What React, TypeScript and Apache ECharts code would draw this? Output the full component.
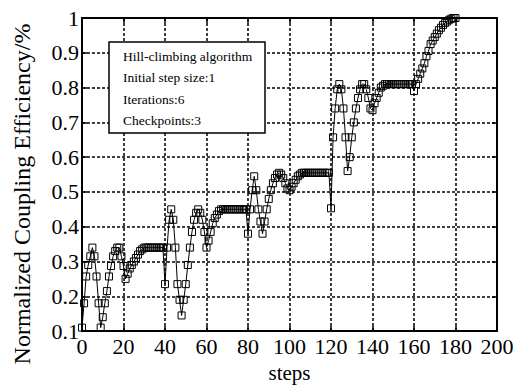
import React, { useEffect, useRef } from "react";
import * as echarts from "echarts";

// Normalized coupling efficiency per step (steps 0..180)
const efficiency: number[] = [
  0.11, 0.18, 0.257, 0.29, 0.315, 0.34, 0.315, 0.257, 0.18, 0.11,
  0.14, 0.18, 0.215, 0.257, 0.287, 0.315, 0.33, 0.34, 0.34, 0.315,
  0.287, 0.25, 0.265, 0.28, 0.29, 0.30, 0.31, 0.32, 0.33, 0.335,
  0.34, 0.34, 0.34, 0.34, 0.34, 0.34, 0.34, 0.34, 0.34, 0.34,
  0.235, 0.34, 0.42, 0.45, 0.42, 0.34, 0.235, 0.19, 0.145, 0.19,
  0.235, 0.29, 0.34, 0.385, 0.42, 0.44, 0.45, 0.44, 0.42, 0.385,
  0.34, 0.36, 0.385, 0.41, 0.425, 0.435, 0.445, 0.45, 0.45, 0.45,
  0.45, 0.45, 0.45, 0.45, 0.45, 0.45, 0.45, 0.45, 0.45, 0.45,
  0.38, 0.45, 0.505, 0.545, 0.505, 0.45, 0.415, 0.38, 0.415, 0.45,
  0.48, 0.505, 0.525, 0.54, 0.55, 0.555, 0.55, 0.54, 0.525, 0.51,
  0.505, 0.515, 0.525, 0.535, 0.545, 0.55, 0.555, 0.555, 0.555, 0.555,
  0.555, 0.555, 0.555, 0.555, 0.555, 0.555, 0.555, 0.555, 0.555, 0.555,
  0.453, 0.657, 0.74, 0.795, 0.81, 0.795, 0.74, 0.657, 0.56, 0.60,
  0.657, 0.70, 0.74, 0.77, 0.795, 0.81, 0.81, 0.795, 0.77, 0.74,
  0.735, 0.755, 0.77, 0.785, 0.80, 0.805, 0.81, 0.81, 0.81, 0.81,
  0.81, 0.81, 0.81, 0.81, 0.81, 0.81, 0.81, 0.81, 0.81, 0.81,
  0.79, 0.81, 0.825, 0.84, 0.855, 0.87, 0.89, 0.905, 0.925, 0.935,
  0.945, 0.955, 0.965, 0.972, 0.98, 0.986, 0.99, 0.995, 0.998, 1.0,
  1.0,
];

const steps: number[] = efficiency.map((_, i) => i);

const xTicks = { min: 0, max: 200, interval: 20 };
const yTicks = { min: 0.1, max: 1, interval: 0.1 };

const xTitle = "steps";
const yTitle = "Normalized Coupling Efficiency/%";

const annotationLines: string[] = [
  "Hill-climbing algorithm",
  "Initial step size:1",
  "Iterations:6",
  "Checkpoints:3",
];

const FONT = "'Liberation Serif', 'Times New Roman', serif";

export default function App() {
  const ref = useRef<HTMLDivElement>(null);

  useEffect(() => {
    document.body.style.margin = "0";
    if (!ref.current) return;
    const chart = echarts.init(ref.current, undefined, { renderer: "svg" });

    const data = steps.map((s, i) => [s, efficiency[i]]);

    const gridLine = {
      show: true,
      lineStyle: { color: "#000", width: 1.5, type: [3, 2] as any },
    };

    const textEls = annotationLines.map((t, i) => ({
      type: "text",
      left: 123,
      top: 49 + i * 21.5,
      style: {
        text: t,
        fill: "#000",
        font: `13.5px ${FONT}`,
      },
      z: 101,
    }));

    chart.setOption({
      animation: false,
      backgroundColor: "#fff",
      grid: { left: 82, right: 20, top: 18, bottom: 43 },
      xAxis: [
        {
          type: "value",
          min: xTicks.min,
          max: xTicks.max,
          interval: xTicks.interval,
          position: "bottom",
          name: xTitle,
          nameLocation: "middle",
          nameGap: 23,
          nameTextStyle: { fontFamily: FONT, fontSize: 21, color: "#000" },
          axisLine: { show: true, onZero: false, lineStyle: { color: "#000", width: 2 } },
          axisTick: { show: true, inside: true, length: 5, lineStyle: { color: "#000", width: 1.5 } },
          axisLabel: { fontFamily: FONT, fontSize: 22, color: "#000", margin: 4 },
          splitLine: gridLine,
        },
        {
          type: "value",
          min: xTicks.min,
          max: xTicks.max,
          interval: xTicks.interval,
          position: "top",
          axisLine: { show: true, onZero: false, lineStyle: { color: "#000", width: 2 } },
          axisTick: { show: true, inside: true, length: 5, lineStyle: { color: "#000", width: 1.5 } },
          axisLabel: { show: false },
          splitLine: { show: false },
        },
      ],
      yAxis: [
        {
          type: "value",
          min: yTicks.min,
          max: yTicks.max,
          interval: yTicks.interval,
          position: "left",
          axisLine: { show: true, onZero: false, lineStyle: { color: "#000", width: 2 } },
          axisTick: { show: true, inside: true, length: 5, lineStyle: { color: "#000", width: 1.5 } },
          axisLabel: {
            fontFamily: FONT,
            fontSize: 22,
            color: "#000",
            margin: 3,
            formatter: (v: number) => String(+v.toFixed(1)),
          },
          splitLine: gridLine,
        },
        {
          type: "value",
          min: yTicks.min,
          max: yTicks.max,
          interval: yTicks.interval,
          position: "right",
          axisLine: { show: true, onZero: false, lineStyle: { color: "#000", width: 2 } },
          axisTick: { show: true, inside: true, length: 5, lineStyle: { color: "#000", width: 1.5 } },
          axisLabel: { show: false },
          splitLine: { show: false },
        },
      ],
      series: [
        {
          type: "line",
          xAxisIndex: 0,
          yAxisIndex: 0,
          data,
          symbol: "rect",
          symbolSize: 7,
          showAllSymbol: true,
          lineStyle: { color: "#000", width: 1 },
          itemStyle: { color: "rgba(255,255,255,0)", borderColor: "#000", borderWidth: 1 },
          emphasis: { disabled: true },
        },
      ],
      graphic: [
        {
          type: "text",
          x: 22,
          y: 194,
          rotation: Math.PI / 2,
          style: {
            text: yTitle,
            fill: "#000",
            font: `24px ${FONT}`,
            textAlign: "center",
            textVerticalAlign: "middle",
          },
        },
        {
          type: "rect",
          shape: { x: 109, y: 42, width: 156, height: 91 },
          style: { fill: "#fff", stroke: "#000", lineWidth: 1.5 },
          z: 100,
        },
        ...textEls,
      ],
    });

    return () => chart.dispose();
  }, []);

  return <div ref={ref} style={{ width: 517, height: 388 }} />;
}
